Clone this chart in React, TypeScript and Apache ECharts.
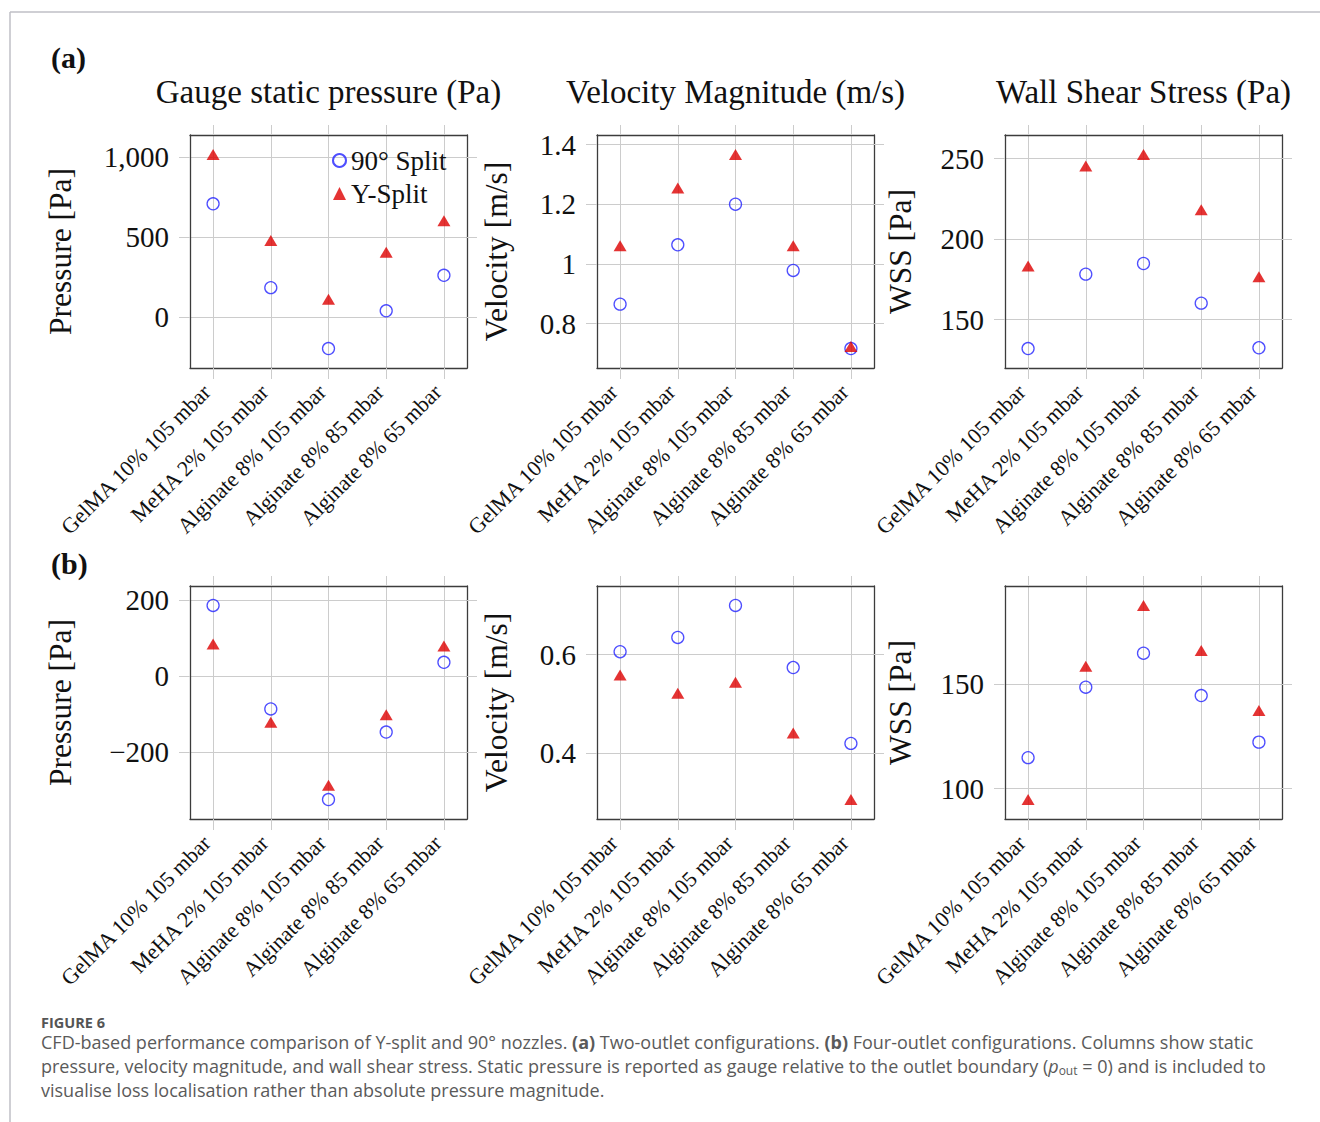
import React, { useEffect, useRef } from 'react';
import * as echarts from 'echarts';

const categories = [
  'GelMA 10% 105 mbar',
  'MeHA 2% 105 mbar',
  'Alginate 8% 105 mbar',
  'Alginate 8% 85 mbar',
  'Alginate 8% 65 mbar',
];

// (a) Two-outlet configurations
const aPressure90 = [710, 186, -195, 41, 263];
const aPressureY = [1019, 480, 114, 408, 604];
const aVelocity90 = [0.865, 1.064, 1.2, 0.978, 0.716];
const aVelocityY = [1.061, 1.254, 1.367, 1.061, 0.723];
const aWss90 = [132.1, 178.3, 184.9, 160.3, 132.6];
const aWssY = [183.4, 245.4, 252.6, 218.3, 176.7];

// (b) Four-outlet configurations
const bPressure90 = [186, -87, -326, -148, 36];
const bPressureY = [84, -122, -288, -102, 79];
const bVelocity90 = [0.606, 0.635, 0.7, 0.574, 0.42];
const bVelocityY = [0.559, 0.522, 0.544, 0.441, 0.306];
const bWss90 = [114.8, 148.4, 164.6, 144.4, 122.2];
const bWssY = [94.8, 158.4, 187.4, 165.9, 137.3];

const ticksPressureA = [0, 500, 1000];
const ticksVelocityA = [0.8, 1, 1.2, 1.4];
const ticksWssA = [150, 200, 250];
const ticksPressureB = [-200, 0, 200];
const ticksVelocityB = [0.4, 0.6];
const ticksWssB = [100, 150];

const columnTitles = ['Gauge static pressure (Pa)', 'Velocity Magnitude (m/s)', 'Wall Shear Stress (Pa)'];
const yNames = ['Pressure [Pa]', 'Velocity [m/s]', 'WSS [Pa]'];
const seriesNames = ['90° Split', 'Y-Split'];

const SERIF = '"Liberation Serif", "Times New Roman", serif';
const SANS = '"Open Sans", "Noto Sans", sans-serif';

const xTickValues = [0, 1, 2, 3, 4];

const fmtThousands = (v: number) =>
  (v < 0 ? '\u2212' : '') + Math.abs(v).toLocaleString('en-US');
const fmtPlain = (v: number) => String(v).replace('-', '\u2212');

function enlarged(a: number[], b: number[]) {
  const all = a.concat(b);
  const mn = Math.min(...all);
  const mx = Math.max(...all);
  const span = mx - mn;
  return [mn - 0.1 * span, mx + 0.1 * span];
}

const colLeft = [190, 597, 1005];
const rowTop = [135, 586];
const boxW = 277;
const boxH = 233;
const nameGaps = [114, 85, 89];

const panels = [
  { row: 0, col: 0, s90: aPressure90, sY: aPressureY, ticks: ticksPressureA, fmt: fmtThousands },
  { row: 0, col: 1, s90: aVelocity90, sY: aVelocityY, ticks: ticksVelocityA, fmt: fmtPlain },
  { row: 0, col: 2, s90: aWss90, sY: aWssY, ticks: ticksWssA, fmt: fmtPlain },
  { row: 1, col: 0, s90: bPressure90, sY: bPressureY, ticks: ticksPressureB, fmt: fmtThousands },
  { row: 1, col: 1, s90: bVelocity90, sY: bVelocityY, ticks: ticksVelocityB, fmt: fmtPlain },
  { row: 1, col: 2, s90: bWss90, sY: bWssY, ticks: ticksWssB, fmt: fmtPlain },
];

const FRAME = '#3c3c3c';
const GRIDC = '#cccccc';
const CAPC = '#5a5a5a';

export default function App() {
  const ref = useRef<HTMLDivElement>(null);
  useEffect(() => {
    document.body.style.margin = '0';
    if (!ref.current) return;
    const chart = echarts.init(ref.current, undefined, { renderer: 'svg' });

    const grid: any[] = [];
    const xAxis: any[] = [];
    const yAxis: any[] = [];
    const series: any[] = [];

    panels.forEach((p, gi) => {
      grid.push({ left: colLeft[p.col], top: rowTop[p.row], width: boxW, height: boxH, containLabel: false });
      const [yMin, yMax] = enlarged(p.s90, p.sY);
      const tickStyle = { color: GRIDC, width: 1 };
      xAxis.push({
        type: 'value', gridIndex: gi, min: -0.4, max: 4.4, position: 'bottom',
        axisLine: { show: true, onZero: false, lineStyle: { color: FRAME, width: 1.3 } },
        axisTick: { show: true, customValues: xTickValues, length: 11, inside: false, lineStyle: tickStyle },
        axisLabel: {
          show: true, customValues: xTickValues, formatter: (v: number) => categories[Math.round(v)],
          rotate: 45, margin: 14, padding: [0, 9, 0, 0], fontFamily: SERIF, fontSize: 22, color: '#111',
        },
        splitLine: { show: true, lineStyle: { color: GRIDC, width: 1 } },
      });
      xAxis.push({
        type: 'value', gridIndex: gi, min: -0.4, max: 4.4, position: 'top',
        axisLine: { show: true, onZero: false, lineStyle: { color: FRAME, width: 1.3 } },
        axisTick: { show: true, customValues: xTickValues, length: 10, inside: false, lineStyle: tickStyle },
        axisLabel: { show: false },
        splitLine: { show: false },
      });
      yAxis.push({
        type: 'value', gridIndex: gi, min: yMin, max: yMax, position: 'left',
        axisLine: { show: true, onZero: false, lineStyle: { color: FRAME, width: 1.3 } },
        axisTick: { show: true, customValues: p.ticks, length: 11, inside: false, lineStyle: tickStyle },
        axisLabel: {
          show: true, customValues: p.ticks, formatter: p.fmt, margin: 21,
          fontFamily: SERIF, fontSize: 29, color: '#111',
        },
        splitLine: { show: true, lineStyle: { color: GRIDC, width: 1 } },
        name: yNames[p.col], nameLocation: 'middle', nameGap: nameGaps[p.col],
        nameTextStyle: { fontFamily: SERIF, fontSize: 31.5, color: '#111' },
      });
      yAxis.push({
        type: 'value', gridIndex: gi, min: yMin, max: yMax, position: 'right',
        axisLine: { show: true, onZero: false, lineStyle: { color: FRAME, width: 1.3 } },
        axisTick: { show: true, customValues: p.ticks, length: 10, inside: false, lineStyle: tickStyle },
        axisLabel: { show: false },
        splitLine: { show: false },
      });
      series.push({
        type: 'scatter', name: seriesNames[0], xAxisIndex: 2 * gi, yAxisIndex: 2 * gi,
        data: p.s90.map((v, i) => [i, v]), symbol: 'circle', symbolSize: 12, z: 3,
        itemStyle: { color: 'rgba(255,255,255,0)', borderColor: '#2222ff', borderWidth: 1.3 },
      });
      series.push({
        type: 'scatter', name: seriesNames[1], xAxisIndex: 2 * gi, yAxisIndex: 2 * gi,
        data: p.sY.map((v, i) => [i, v]), symbol: 'triangle', symbolSize: [13, 11], z: 4,
        itemStyle: { color: '#dd0000' },
      });
    });

    const titleCenters = colLeft.map((l) => l + boxW / 2);

    const graphic: any[] = [
      { type: 'line', shape: { x1: 10, y1: 12, x2: 1320, y2: 12 }, style: { stroke: '#bfbfc6', lineWidth: 1.5 } },
      { type: 'line', shape: { x1: 10, y1: 12, x2: 10, y2: 1122 }, style: { stroke: '#bfbfc6', lineWidth: 1.5 } },
      { type: 'text', x: 51, y: 57, style: { text: '(a)', font: `bold 30px ${SERIF}`, fill: '#111', textVerticalAlign: 'middle' } },
      { type: 'text', x: 51, y: 563, style: { text: '(b)', font: `bold 30px ${SERIF}`, fill: '#111', textVerticalAlign: 'middle' } },
      ...columnTitles.map((t, i) => ({
        type: 'text', x: titleCenters[i], y: 92,
        style: { text: t, font: `33px ${SERIF}`, fill: '#111', textAlign: 'center', textVerticalAlign: 'middle' },
      })),
      { type: 'text', x: 41, y: 1022, style: { text: 'FIGURE 6', font: `bold 14.5px ${SANS}`, fill: '#555', textVerticalAlign: 'middle' } },
      {
        type: 'text', x: 41, y: 1042,
        style: {
          text: 'CFD-based performance comparison of Y-split and 90° nozzles. {b|(a)} Two-outlet configurations. {b|(b)} Four-outlet configurations. Columns show static',
          font: `18px ${SANS}`, fill: CAPC, textVerticalAlign: 'middle',
          rich: { b: { fontWeight: 'bold', fontSize: 18, fontFamily: SANS, fill: CAPC } },
        },
      },
      {
        type: 'text', x: 41, y: 1066,
        style: {
          text: 'pressure, velocity magnitude, and wall shear stress. Static pressure is reported as gauge relative to the outlet boundary ({i|p}{s|out} = 0) and is included to',
          font: `18px ${SANS}`, fill: CAPC, textVerticalAlign: 'middle',
          rich: {
            i: { fontStyle: 'italic', fontSize: 18, fontFamily: SANS, fill: CAPC },
            s: { fontSize: 12, fontFamily: SANS, fill: CAPC, padding: [9, 0, 0, 0] },
          },
        },
      },
      {
        type: 'text', x: 41, y: 1090,
        style: {
          text: 'visualise loss localisation rather than absolute pressure magnitude.',
          font: `18px ${SANS}`, fill: CAPC, textVerticalAlign: 'middle',
        },
      },
    ];

    chart.setOption({
      animation: false,
      backgroundColor: '#ffffff',
      grid, xAxis, yAxis, series, graphic,
      legend: {
        show: true, orient: 'vertical', left: 327, top: 142,
        itemWidth: 13, itemHeight: 13, itemGap: 6,
        data: seriesNames,
        textStyle: { fontFamily: SERIF, fontSize: 27, color: '#111' },
        selectedMode: false,
      },
      tooltip: { show: false },
    });

    return () => chart.dispose();
  }, []);

  return (
    <div style={{ position: 'fixed', left: 0, top: 0, width: 1320, height: 1122, background: '#fff' }}>
      <div ref={ref} style={{ width: 1320, height: 1122 }} />
    </div>
  );
}
